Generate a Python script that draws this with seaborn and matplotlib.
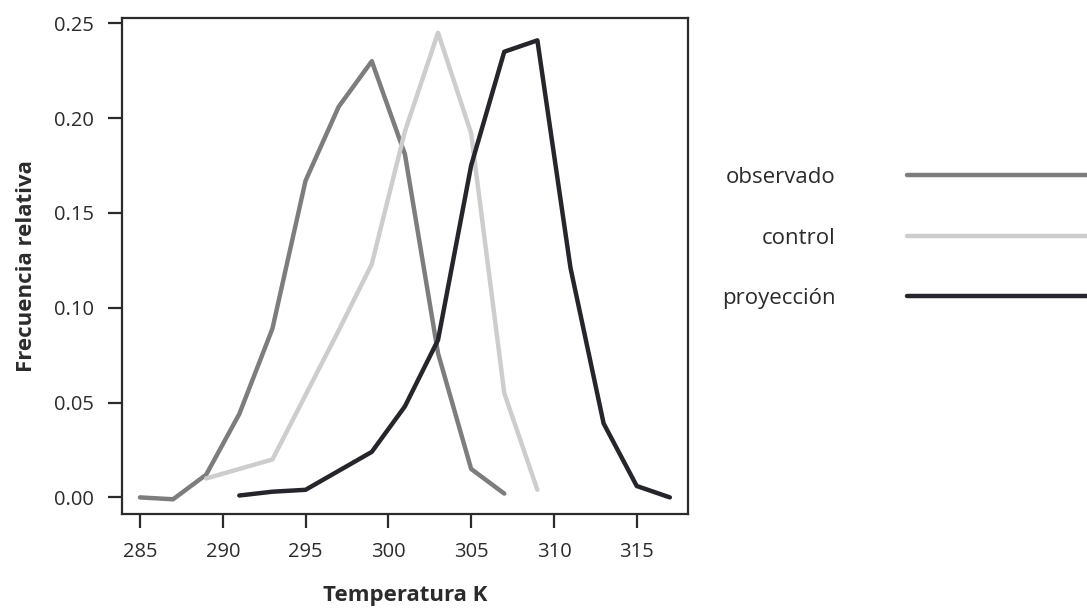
import numpy as np
import pandas as pd
import matplotlib
matplotlib.use('Agg')
import matplotlib.pyplot as plt
import seaborn as sns

# ── Data ───────────────────────────────────────────────────
temp_obs = [285, 287, 289, 291, 293, 295, 297, 299, 301, 303, 305, 307]
freq_obs = [0.000, -0.001, 0.012, 0.044, 0.089, 0.167, 0.206, 0.230, 0.181, 0.076, 0.015, 0.002]

temp_ctl = [289, 291, 293, 295, 297, 299, 301, 303, 305, 307, 309]
freq_ctl = [0.010, 0.015, 0.020, 0.054, 0.088, 0.123, 0.193, 0.245, 0.192, 0.055, 0.004]

temp_proy = [291, 293, 295, 297, 299, 301, 303, 305, 307, 309, 311, 313, 315, 317]
freq_proy = [0.001, 0.003, 0.004, 0.014, 0.024, 0.048, 0.083, 0.175, 0.235, 0.241, 0.121, 0.039, 0.006, 0.000]

series_names = ['observado', 'control', 'proyección']
x_ticks = [285, 290, 295, 300, 305, 310, 315]
y_ticks = [0.00, 0.05, 0.10, 0.15, 0.20, 0.25]

df = pd.concat([
    pd.DataFrame({'temp': temp_obs, 'freq': freq_obs, 'serie': 'observado'}),
    pd.DataFrame({'temp': temp_ctl, 'freq': freq_ctl, 'serie': 'control'}),
    pd.DataFrame({'temp': temp_proy, 'freq': freq_proy, 'serie': 'proyección'}),
], ignore_index=True)

# ── Style ──────────────────────────────────────────────────
sns.set_theme(style='ticks')
plt.rcParams['font.family'] = ['Open Sans', 'DejaVu Sans']
INK = '#2b2b2b'
palette = {'observado': '#7d7d7d', 'control': '#cdcdcd', 'proyección': '#25252b'}

fig = plt.figure(figsize=(10.87, 6.12), dpi=100)
ax = fig.add_axes([0.112, 0.160, 0.521, 0.810])

sns.lineplot(data=df, x='temp', y='freq', hue='serie', hue_order=series_names,
             palette=palette, linewidth=3.2, sort=False, estimator=None, ax=ax)

ax.set_xlim(283.9, 318.1)
ax.set_ylim(-0.0088, 0.2526)
ax.set_xticks(x_ticks)
ax.set_yticks(y_ticks)
ax.set_yticklabels([f'{v:.2f}' for v in y_ticks])

for side in ['top', 'right', 'bottom', 'left']:
    ax.spines[side].set_visible(True)
    ax.spines[side].set_color(INK)
    ax.spines[side].set_linewidth(1.6)
ax.tick_params(direction='out', length=10, width=1.6, color=INK,
               labelsize=14.5, labelcolor=INK, pad=10)

ax.set_xlabel('Temperatura K', fontsize=16, fontweight='bold', color=INK, labelpad=17)
ax.set_ylabel('Frecuencia relativa', fontsize=16, fontweight='bold', color=INK, labelpad=12)

leg = ax.legend(loc='center left', bbox_to_anchor=(0.654, 0.611),
                bbox_transform=fig.transFigure, frameon=False, markerfirst=False,
                handlelength=10, handletextpad=3.2, labelspacing=1.78,
                borderpad=0, fontsize=16)
for t in leg.get_texts():
    t.set_color(INK)
for h in leg.get_lines():
    h.set_linewidth(3.2)

fig.savefig('out.png', dpi=100)
plt.close(fig)
